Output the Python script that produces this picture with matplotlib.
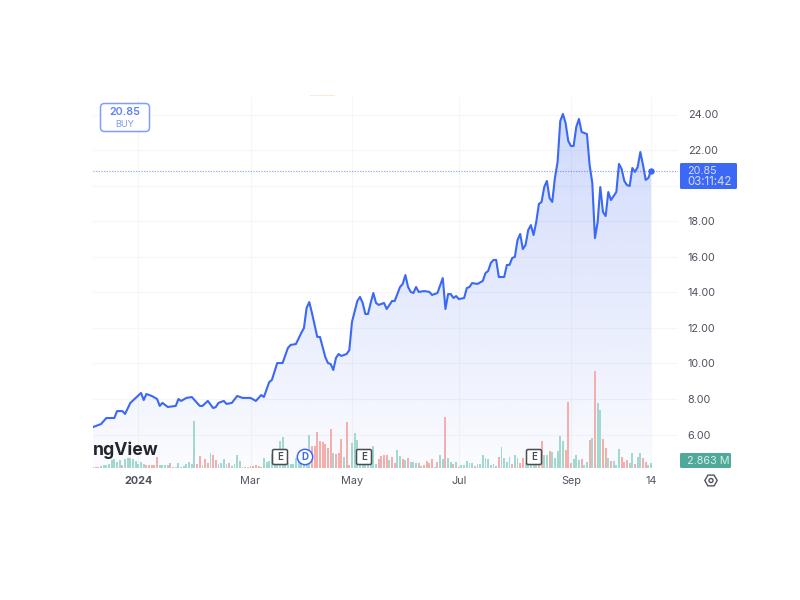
#!/usr/bin/env python3
"""TradingView-style area chart with volume bars."""
import matplotlib
matplotlib.use("Agg")
import matplotlib.pyplot as plt
import numpy as np
from matplotlib.patches import Circle, FancyBboxPatch, Polygon, Rectangle

# ── Data (x = trading session number) ──
sessions = [0, 3, 5, 8, 9, 11, 12, 14, 18, 19, 20, 22, 24, 25, 26, 28, 31, 32, 33, 35, 37, 40, 41, 43, 45,
            46, 47, 49, 50, 52, 54, 56, 59, 61, 63, 64, 66, 67, 69, 71, 73, 74, 76, 78, 79, 80, 81, 82,
            84, 85, 87, 88, 89, 90, 91, 92, 93, 95, 96, 97, 99, 100, 101, 102, 103, 104, 105, 106, 107,
            109, 110, 112, 113, 115, 116, 117, 118, 119, 120, 121, 122, 124, 126, 127, 129, 131, 132,
            133, 134, 135, 136, 137, 139, 140, 141, 142, 144, 146, 147, 148, 149, 150, 151, 152, 154,
            155, 156, 157, 158, 159, 160, 161, 162, 163, 164, 165, 166, 167, 168, 169, 170, 171, 172,
            173, 174, 175, 176, 177, 178, 179, 180, 181, 182, 183, 185, 186, 187, 188, 189, 190, 191,
            192, 193, 194, 196, 197, 198, 199, 200, 201, 202, 203, 204, 205, 206, 207, 208, 209]
prices = [6.42, 6.59, 6.93, 6.93, 7.32, 7.32, 7.16, 7.78, 8.34, 7.94, 8.28, 8.17, 8.0, 7.61, 7.78, 7.55, 7.61,
          8.0, 7.89, 8.06, 8.11, 7.61, 7.61, 7.89, 7.49, 7.55, 7.78, 7.89, 7.72, 7.78, 8.17, 8.06, 8.06,
          7.89, 8.22, 8.11, 8.95, 9.07, 10.02, 10.02, 10.87, 11.04, 11.09, 11.71, 11.99, 13.12, 13.45,
          12.84, 11.49, 11.49, 10.36, 10.02, 9.97, 9.63, 10.31, 10.53, 10.42, 10.53, 10.75, 12.33, 13.51,
          13.74, 13.4, 12.78, 12.78, 13.4, 13.96, 13.4, 13.29, 13.4, 13.06, 13.51, 13.51, 14.3, 14.47,
          14.97, 14.3, 14.02, 13.96, 14.3, 14.02, 14.07, 14.02, 13.85, 13.96, 14.8, 13.06, 13.9, 13.9,
          13.68, 13.79, 13.62, 13.68, 14.24, 14.3, 14.52, 14.47, 14.64, 15.08, 15.2, 15.65, 15.82, 15.82,
          14.86, 14.86, 15.54, 15.54, 15.93, 15.99, 16.94, 17.28, 16.43, 16.66, 17.5, 17.78, 17.22, 17.95,
          18.97, 19.08, 19.92, 20.26, 19.3, 19.08, 20.43, 21.33, 23.63, 24.03, 23.52, 22.51, 22.23, 22.23,
          23.3, 23.75, 23.02, 22.9, 21.16, 20.15, 17.05, 17.95, 19.92, 18.52, 18.29, 19.64, 19.19, 19.64,
          21.22, 20.93, 20.26, 20.03, 19.98, 20.99, 20.77, 21.05, 21.89, 21.16, 20.32, 20.43, 20.85]

volumes = [0.6, 0.6, 0.6, 1.3, 1.9, 1.9, 2.5, 5.0, 5.7, 3.8,
           5.0, 1.9, 5.7, 6.3, 6.3, 5.7, 4.4, 2.5, 3.8, 2.5,
           1.9, 1.9, 1.9, 1.9, 6.9, 1.9, 1.9, 1.9, 1.9, 3.2,
           0.6, 0.6, 3.2, 0.6, 1.3, 2.5, 3.8, 2.5, 29.6, 2.5,
           7.6, 1.9, 5.7, 3.2, 9.5, 8.2, 5.0, 2.5, 3.2, 5.7,
           2.5, 3.2, 1.3, 2.5, 8.2, 4.4, 0.6, 0.6, 0.6, 1.3,
           1.3, 1.9, 1.3, 0.6, 6.3, 3.8, 4.4, 8.8, 8.8, 7.6,
           17.0, 19.5, 5.0, 3.2, 2.5, 2.5, 6.3, 4.4, 5.0, 3.2,
           7.6, 20.8, 13.9, 13.9, 22.7, 17.0, 16.4, 15.1, 12.6, 24.6,
           9.5, 8.8, 9.5, 18.3, 6.9, 29.0, 1.9, 15.8, 22.0, 17.6,
           7.6, 6.3, 5.0, 6.3, 7.6, 13.9, 2.5, 5.7, 7.6, 8.2,
           8.2, 5.0, 6.9, 3.2, 11.3, 7.6, 5.7, 5.0, 6.3, 3.8,
           3.8, 3.2, 3.2, 1.3, 1.9, 4.4, 3.2, 5.7, 0.6, 3.8,
           8.2, 5.7, 32.1, 6.3, 3.8, 2.5, 3.8, 0.6, 1.9, 1.9,
           4.4, 3.2, 3.2, 1.3, 2.5, 2.5, 8.2, 6.3, 5.7, 1.9,
           2.5, 1.3, 6.9, 13.2, 6.3, 3.8, 6.9, 2.5, 8.2, 6.3,
           3.2, 6.3, 3.2, 2.5, 1.9, 1.9, 1.9, 6.3, 17.0, 8.2,
           8.2, 10.7, 10.1, 6.3, 10.7, 20.2, 17.0, 11.3, 41.6, 3.2,
           5.7, 8.2, 5.0, 5.7, 1.9, 3.8, 17.6, 18.9, 61.1, 41.0,
           36.5, 18.3, 12.6, 6.3, 4.4, 4.4, 1.9, 12.0, 6.9, 3.8,
           5.0, 3.2, 9.5, 2.5, 6.9, 9.5, 6.3, 3.8, 1.9, 2.863]
down_sessions = [0, 1, 2, 11, 20, 21, 22, 23, 24, 29, 39, 40, 42, 43, 45, 46, 51, 56, 57, 59, 60, 61, 62,
                 82, 83, 84, 85, 86, 87, 88, 89, 91, 92, 93, 95, 96, 107, 108, 109, 110, 112, 113, 116,
                 118, 122, 124, 125, 126, 127, 129, 132, 135, 137, 143, 152, 157, 160, 161, 167, 168,
                 171, 177, 178, 179, 183, 186, 188, 191, 192, 194, 198, 199, 200, 203, 206, 207]

price_ticks = [6, 8, 10, 12, 14, 16, 18, 20, 22, 24]
date_ticks = [17, 59, 97, 137, 179, 209]
date_labels = ['2024', 'Mar', 'May', 'Jul', 'Sep', '14']
last_price = 20.85

# ── Palette ──
BLUE = '#3b68f5'
GRID = '#f5f6f8'
TEXT = '#50535e'
UP = '#a3d8d0'
DOWN = '#f5aeac'

plt.rcParams['font.family'] = ['Inter', 'DejaVu Sans']

fig = plt.figure(figsize=(8, 6), dpi=100, facecolor='white')


def fx(px):
    return px / 800


def fy(py):
    return 1 - py / 600


# axes box in pixels: x 93-678, y 97-468
ax = fig.add_axes([fx(93), fy(468), fx(585), 371 / 600])
ax.set_xlim(0, 585 / 2.67)
ax.set_ylim(24 - (468 - 114.5) / 17.78, 24 + 17.5 / 17.78)
ax.set_zorder(1)
for spine in ax.spines.values():
    spine.set_visible(False)

ax.set_yticks(price_ticks)
# the 20.00 label sits behind the last price tag in the original
ax.set_yticklabels(['' if p == 20 else f'{p:.2f}' for p in price_ticks], fontsize=7.8, color=TEXT)
ax.yaxis.tick_right()
ax.set_xticks(date_ticks)
ax.set_xticklabels(date_labels, fontsize=7.8, color=TEXT)
ax.get_xticklabels()[0].set_fontweight('bold')
ax.tick_params(axis='y', length=0, pad=7)
ax.tick_params(axis='x', length=0, pad=6)
ax.grid(color=GRID, linewidth=0.8, zorder=0)
ax.set_axisbelow(True)

# gradient fill under the line, clipped to the price polygon
y_low, y_high = ax.get_ylim()
rgba = np.zeros((256, 1, 4))
rgba[..., :3] = matplotlib.colors.to_rgb('#2f5cf0')
rgba[:, 0, 3] = np.linspace(0.23, 0.02, 256)
grad = ax.imshow(rgba, extent=(0, sessions[-1], y_low, 24.1), aspect='auto',
                 origin='upper', zorder=1, interpolation='bilinear')
poly = Polygon(list(zip(sessions, prices)) + [(sessions[-1], y_low), (sessions[0], y_low)],
               closed=True, transform=ax.transData, facecolor='none', edgecolor='none')
ax.add_patch(poly)
grad.set_clip_path(poly)
ax.set_xlim(0, 585 / 2.67)
ax.set_ylim(y_low, y_high)

# volume on its own scale, same box
vol_ax = fig.add_axes(ax.get_position(), sharex=ax)
vol_ax.set_ylim(0, 371 * 0.63)
vol_ax.patch.set_visible(False)
vol_ax.axis('off')
vol_ax.set_zorder(2)
bar_colors = [DOWN if i in down_sessions else UP for i in range(len(volumes))]
vol_ax.bar(np.arange(len(volumes)), volumes, width=0.72, color=bar_colors, linewidth=0)

# price line on top of the volume
top = fig.add_axes(ax.get_position(), sharex=ax)
top.set_ylim(y_low, y_high)
top.patch.set_visible(False)
top.axis('off')
top.set_zorder(3)
top.axhline(last_price, color=BLUE, linewidth=0.8, linestyle=(0, (1, 1.4)), alpha=0.65)
top.plot(sessions, prices, color=BLUE, linewidth=1.5, solid_joinstyle='round')
top.plot(sessions[-1], last_price, 'o', color=BLUE, markersize=3.6)

# ── Overlays in pixel positions ──
ov = fig.add_axes([0, 0, 1, 1])
ov.set_xlim(0, 800)
ov.set_ylim(600, 0)
ov.axis('off')
ov.patch.set_visible(False)
ov.set_zorder(4)

# logo, cut off at the left edge of the pane
ov.text(93, 450.5, 'ngView', fontsize=12.7, fontweight='bold', color='#23252e',
        ha='left', va='center')

# buy tag
ov.add_patch(FancyBboxPatch((100.5, 103.5), 49, 28, boxstyle='round,pad=0,rounding_size=4',
                            facecolor='white', edgecolor='#7f9ffb', linewidth=1.1))
ov.text(125, 112, '20.85', fontsize=7.8, fontweight='semibold', color='#5f81f5',
        ha='center', va='center')
ov.text(125, 124.5, 'BUY', fontsize=6.6, color='#7f9ae8', ha='center', va='center')

# last price tag
ov.add_patch(FancyBboxPatch((680, 163), 57, 26, boxstyle='round,pad=0,rounding_size=1.5',
                            facecolor=BLUE, edgecolor='none'))
ov.text(687.5, 170.5, '20.85', fontsize=7.8, color='#d5deff', ha='left', va='center')
ov.text(687, 182, '03:11:42', fontsize=8.3, color='#d5deff', ha='left', va='center')

# last volume tag
ov.add_patch(FancyBboxPatch((680, 453), 51, 15, boxstyle='round,pad=0,rounding_size=1.5',
                            facecolor='#4fa898', edgecolor='none'))
ov.text(687, 460.5, '2.863 M', fontsize=7.8, color='#d5efe9', ha='left', va='center')

# earnings and dividend markers
for cx in [280, 364, 534]:
    ov.add_patch(FancyBboxPatch((cx - 7.5, 449.5), 15, 15, boxstyle='round,pad=0,rounding_size=1.5',
                                facecolor='white', edgecolor='#4a4c55', linewidth=1.1))
    ov.text(cx, 457.3, 'E', fontsize=7, fontweight='semibold', color='#4a4c55',
            ha='center', va='center')
ov.add_patch(Circle((305, 457), 7.7, facecolor='white', edgecolor=BLUE, linewidth=1.1))
ov.text(305, 457.3, 'D', fontsize=7, fontweight='bold', color=BLUE, ha='center', va='center')

# settings icon
ang = np.deg2rad(np.arange(0, 360, 60))
ov.add_patch(Polygon(np.column_stack([711 + 6.2 * np.cos(ang), 480.5 + 6.2 * np.sin(ang)]),
                     closed=True, facecolor='white', edgecolor=TEXT, linewidth=1))
ov.add_patch(Circle((711, 480.5), 2, facecolor='white', edgecolor=TEXT, linewidth=1))

# faint sliver at the top of the pane
ov.add_patch(Rectangle((310, 95), 12, 1.2, facecolor='#e3f1f4', edgecolor='none'))
ov.add_patch(Rectangle((322, 95), 13, 1.2, facecolor='#fbe8cf', edgecolor='none'))

fig.savefig('out.png', dpi=100, facecolor='white')
plt.close(fig)
